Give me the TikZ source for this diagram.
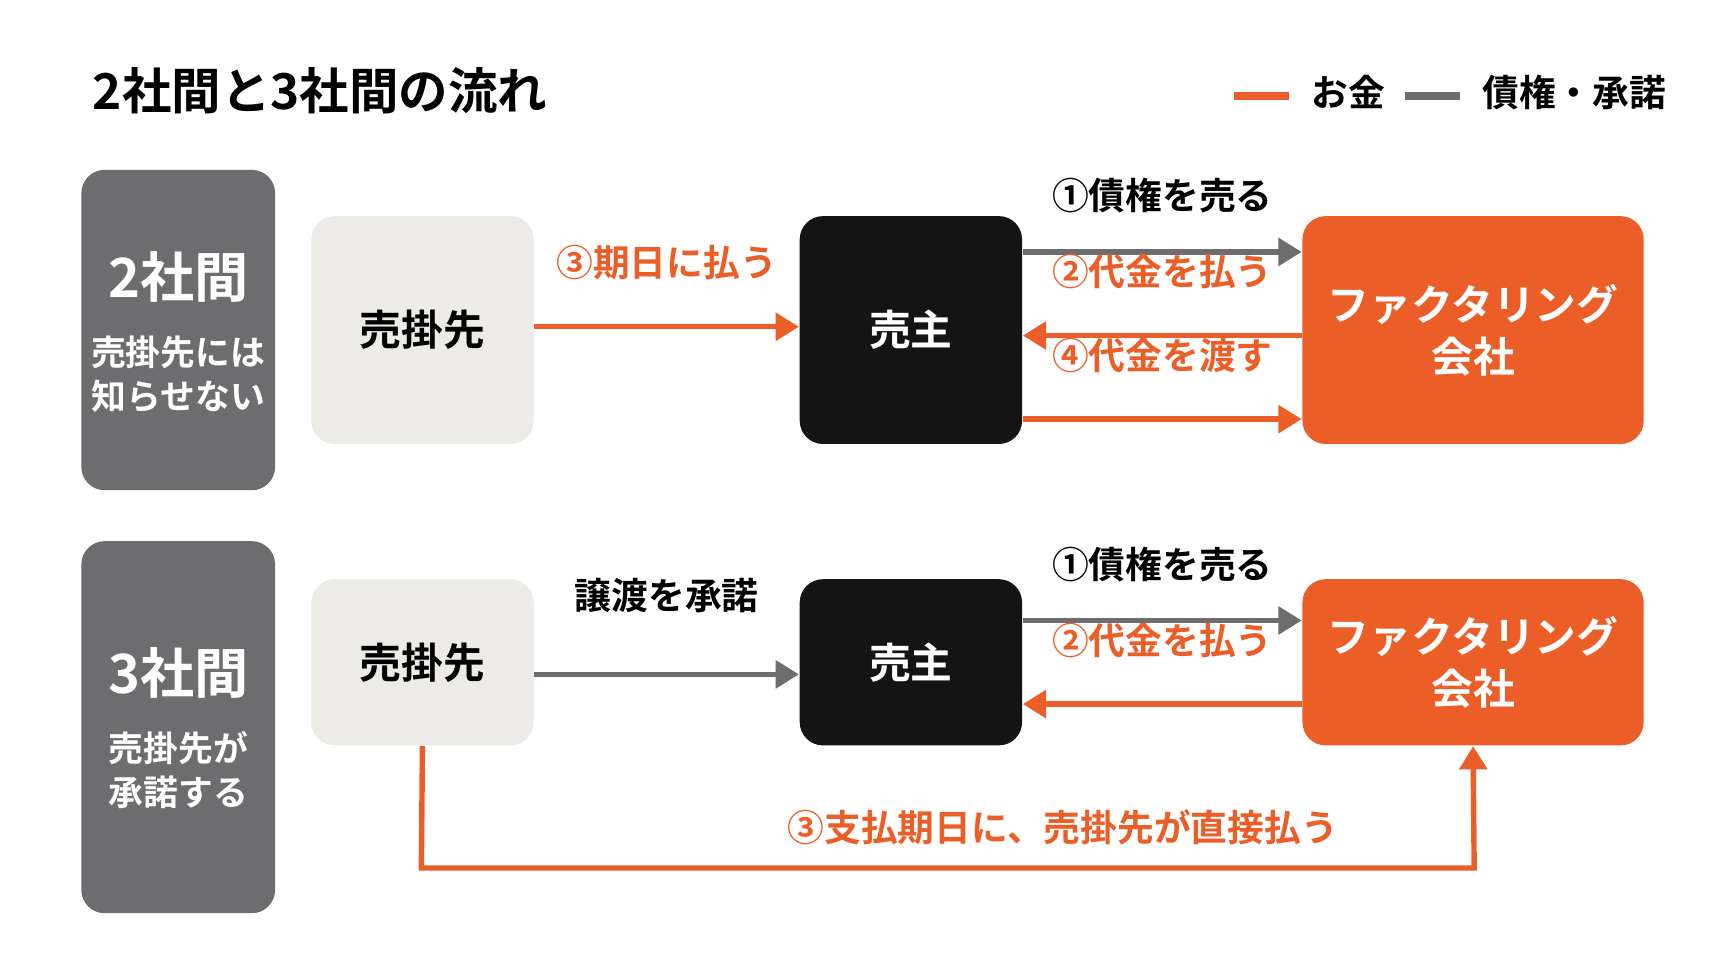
\documentclass[tikz,border=0pt]{standalone}
\usepackage{fontspec}
\setmainfont{Noto Sans CJK JP}[BoldFont={* Bold}]
\usetikzlibrary{arrows.meta}
\definecolor{moneyorange}{HTML}{EC5E27}
\definecolor{rightgray}{HTML}{6D6D6F}
\definecolor{buyergray}{HTML}{ECEBE8}
\definecolor{sellerblack}{HTML}{141414}
\tikzset{
  box/.style={rounded corners=6pt, minimum width=2.02cm, inner sep=0pt, align=center,
    font=\bfseries\fontsize{10.8}{13.4}\selectfont},
  sidebox/.style={rounded corners=6pt, fill=rightgray, minimum width=1.76cm, inner sep=0pt},
  money/.style={draw=moneyorange, line width=1.4pt, -{Triangle[length=6pt,width=7pt]}},
  right/.style={draw=rightgray, line width=1.4pt, -{Triangle[length=6pt,width=7pt]}},
  lbl/.style={font=\bfseries\fontsize{9.5}{11}\selectfont},
}
\begin{document}
\begin{tikzpicture}[x=0.01cm,y=-0.01cm]
  \useasboundingbox (0,0) rectangle (1578,887);
  % title and legend
  \node[anchor=west, font=\bfseries\fontsize{12.8}{14}\selectfont] (title) at (72,82) {2社間と3社間の流れ};
  \coordinate (lgA) at (1122,87); \coordinate (lgB) at (1172,87);
  \coordinate (lgC) at (1277,87); \coordinate (lgD) at (1327,87);
  \draw[moneyorange, line width=2pt] (lgA) -- (lgB);
  \draw[rightgray, line width=2pt] (lgC) -- (lgD);
  \node[anchor=west, lbl] (lgmoney) at (1180,84) {お金};
  \node[anchor=west, lbl] (lgright) at (1335,84) {債権・承諾};

  % two-party row
  \node[sidebox, minimum height=2.91cm] (side2) at (162,300) {};
  \node[white, font=\bfseries\fontsize{14}{16}\selectfont] (side2t) at (162,252) {2社間};
  \node[white, align=center, font=\bfseries\fontsize{9}{11.4}\selectfont] (side2s) at (162,340) {売掛先には\\知らせない};
  \node[box, fill=buyergray, minimum height=2.07cm] (buyerA) at (384,300) {売掛先};
  \node[box, fill=sellerblack, text=white, minimum height=2.07cm] (sellerA) at (828,300) {売主};
  \node[box, fill=moneyorange, text=white, minimum width=3.10cm, minimum height=2.07cm] (factorA) at (1339,300) {ファクタリング\\会社};
  \draw[money] (buyerA.east |- 0,297) -- (sellerA.west |- 0,297) node[lbl, moneyorange, midway, above=8pt] {③期日に払う};
  \draw[right] (sellerA.east |- 0,229) -- (factorA.west |- 0,229) node[lbl, midway, above=6pt, black] {①債権を売る};
  \draw[money] (factorA.west |- 0,305) -- (sellerA.east |- 0,305) node[lbl, moneyorange, midway, above=8pt] {②代金を払う};
  \draw[money] (sellerA.east |- 0,381) -- (factorA.west |- 0,381) node[lbl, moneyorange, midway, above=8pt] {④代金を渡す};

  % three-party row
  \node[sidebox, minimum height=3.38cm] (side3) at (162,661) {};
  \node[white, font=\bfseries\fontsize{14}{16}\selectfont] (side3t) at (162,612) {3社間};
  \node[white, align=center, font=\bfseries\fontsize{9}{11.4}\selectfont] (side3s) at (162,700) {売掛先が\\承諾する};
  \node[box, fill=buyergray, minimum height=1.51cm] (buyerB) at (384,602) {売掛先};
  \node[box, fill=sellerblack, text=white, minimum height=1.51cm] (sellerB) at (828,602) {売主};
  \node[box, fill=moneyorange, text=white, minimum width=3.10cm, minimum height=1.51cm] (factorB) at (1339,602) {ファクタリング\\会社};
  \draw[right] (buyerB.east |- 0,613) -- (sellerB.west |- 0,613) node[lbl, midway, above=12pt, black] {譲渡を承諾};
  \draw[right] (sellerB.east |- 0,564) -- (factorB.west |- 0,564) node[lbl, midway, above=6pt, black] {①債権を売る};
  \draw[money] (factorB.west |- 0,640) -- (sellerB.east |- 0,640) node[lbl, moneyorange, midway, above=8pt] {②代金を払う};
  \coordinate (routeL) at (383,789); \coordinate (routeR) at (1340,789);
  \draw[money] (buyerB.south) -- (routeL) -- (routeR) -- (factorB.south)
    node[lbl, moneyorange, pos=0.25] at (966,752) {};
  \node[lbl, moneyorange] (routelbl) at (966,752) {③支払期日に、売掛先が直接払う};
\end{tikzpicture}
\end{document}
